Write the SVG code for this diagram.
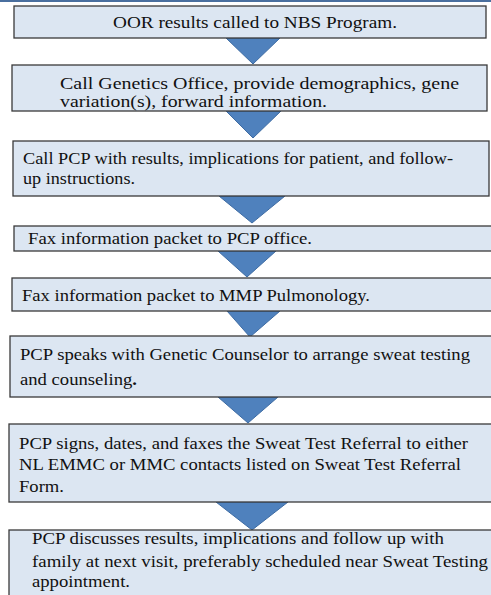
<svg xmlns="http://www.w3.org/2000/svg" width="491" height="595" viewBox="0 0 491 595">
  <style>
    .box { fill: #dce6f2; stroke: #3a3a3a; stroke-width: 1.3; }
    .arrow { fill: #4f81bd; stroke: #3d6ba3; stroke-width: 1; stroke-linejoin: round; }
  </style>
  <rect width="491" height="595" fill="#ffffff"/>
  <!-- top rule -->
  <rect x="0" y="0" width="491" height="2" fill="#4a6f9f"/>

  <!-- connectors: downward chevrons between steps -->
  <g id="connectors">
    <polygon class="arrow" points="226,38 280,38 253,64"/>
    <polygon class="arrow" points="226,111 281,111 253,138"/>
    <polygon class="arrow" points="219,196 285,196 252,223"/>
    <polygon class="arrow" points="218,251 276,251 247,277"/>
    <polygon class="arrow" points="227,311 280,311 250,337"/>
    <polygon class="arrow" points="218,397 278,397 248,423"/>
    <polygon class="arrow" points="216,502 288,502 252,530"/>
  </g>

  <g font-family="Liberation Serif, Times New Roman, serif" font-size="16.5" fill="#111">
    <g id="step1">
      <rect class="box" x="14" y="6" width="472" height="32"/>
      <text x="113" y="28" textLength="284" lengthAdjust="spacingAndGlyphs">OOR results called to NBS Program.</text>
    </g>

    <g id="step2">
      <rect class="box" x="12" y="65" width="475" height="46"/>
      <text x="60" y="89" font-size="16" textLength="399" lengthAdjust="spacingAndGlyphs">Call Genetics Office, provide demographics, gene</text>
      <text x="60" y="107" font-size="16" textLength="267" lengthAdjust="spacingAndGlyphs">variation(s), forward information.</text>
    </g>

    <g id="step3">
      <rect class="box" x="13" y="141" width="476" height="55"/>
      <text x="23" y="164" textLength="430" lengthAdjust="spacingAndGlyphs">Call PCP with results, implications for patient, and follow-</text>
      <text x="23" y="184" textLength="112" lengthAdjust="spacingAndGlyphs">up instructions.</text>
    </g>

    <g id="step4">
      <rect class="box" x="14" y="226" width="490" height="25"/>
      <text x="28" y="244" textLength="284" lengthAdjust="spacingAndGlyphs">Fax information packet to PCP office.</text>
    </g>

    <g id="step5">
      <rect class="box" x="12" y="278" width="492" height="33"/>
      <text x="22" y="300.5" textLength="348" lengthAdjust="spacingAndGlyphs">Fax information packet to MMP Pulmonology.</text>
    </g>

    <g id="step6">
      <rect class="box" x="10" y="336" width="494" height="61"/>
      <text x="20" y="360" textLength="450" lengthAdjust="spacingAndGlyphs">PCP speaks with Genetic Counselor to arrange sweat testing</text>
      <text x="20" y="385" textLength="117" lengthAdjust="spacingAndGlyphs">and counseling<tspan font-weight="bold">.</tspan></text>
    </g>

    <g id="step7">
      <rect class="box" x="9" y="424" width="495" height="78"/>
      <text x="19" y="449" textLength="449" lengthAdjust="spacingAndGlyphs">PCP signs, dates, and faxes the Sweat Test Referral to either</text>
      <text x="19" y="469.5" textLength="442" lengthAdjust="spacingAndGlyphs">NL EMMC or MMC contacts listed on Sweat Test Referral</text>
      <text x="19" y="491.5" textLength="45" lengthAdjust="spacingAndGlyphs">Form.</text>
    </g>

    <g id="step8">
      <rect class="box" x="9" y="530" width="495" height="80"/>
      <text x="32" y="544" textLength="412" lengthAdjust="spacingAndGlyphs">PCP discusses results, implications and follow up with</text>
      <text x="32" y="567" textLength="456" lengthAdjust="spacingAndGlyphs">family at next visit, preferably scheduled near Sweat Testing</text>
      <text x="32" y="587" textLength="98" lengthAdjust="spacingAndGlyphs">appointment.</text>
    </g>
  </g>
</svg>
